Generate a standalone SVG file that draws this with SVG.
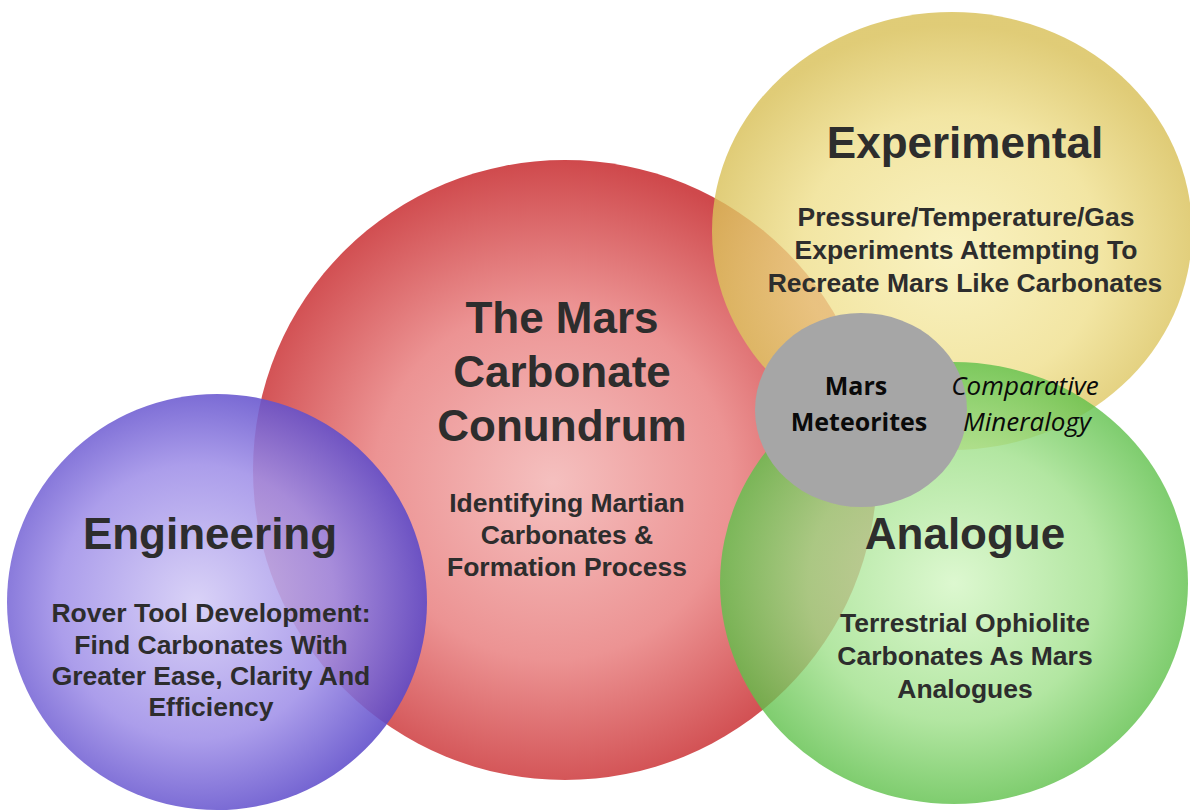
<svg xmlns="http://www.w3.org/2000/svg" width="1190" height="812" viewBox="0 0 1190 812">
  <style>
    .title { font-family: "Liberation Sans", Arial, sans-serif; font-weight: bold; font-size: 44px; fill: #2d2d2d; text-anchor: middle; }
    .sub { font-family: "Liberation Sans", Arial, sans-serif; font-weight: bold; font-size: 26.5px; fill: #2d2d2d; text-anchor: middle; }
    .core { font-family: "Open Sans", "Noto Sans", sans-serif; font-weight: bold; font-size: 25px; fill: #0a0a0a; text-anchor: middle; }
    .core-i { font-family: "Open Sans", "Noto Sans", sans-serif; font-style: italic; font-size: 26px; fill: #0a0a0a; text-anchor: middle; }
  </style>
  <defs>
    <radialGradient id="gRed" cx="0.48" cy="0.52" r="0.52">
      <stop offset="0" stop-color="#f5c0bf"/>
      <stop offset="0.55" stop-color="#ec9393"/>
      <stop offset="1" stop-color="#cf494c"/>
    </radialGradient>
    <radialGradient id="gPurple" cx="0.45" cy="0.5" r="0.55">
      <stop offset="0" stop-color="#d4ccf6"/>
      <stop offset="0.6" stop-color="#a090e8"/>
      <stop offset="1" stop-color="#5a48c8"/>
    </radialGradient>
    <radialGradient id="gYellow" cx="0.5" cy="0.55" r="0.52">
      <stop offset="0" stop-color="#f8efb2"/>
      <stop offset="0.6" stop-color="#efdf8c"/>
      <stop offset="1" stop-color="#d8bf55"/>
    </radialGradient>
    <radialGradient id="gGreen" cx="0.5" cy="0.5" r="0.52">
      <stop offset="0" stop-color="#d4f6c4"/>
      <stop offset="0.6" stop-color="#9fe08a"/>
      <stop offset="1" stop-color="#58bd44"/>
    </radialGradient>
  </defs>

  <rect width="1190" height="812" fill="#ffffff"/>

  <!-- central topic -->
  <g id="node-mars-carbonate-conundrum">
    <ellipse cx="565" cy="470" rx="312" ry="310" fill="url(#gRed)"/>
    <text class="title" x="562" y="333">The Mars</text>
    <text class="title" x="562" y="387">Carbonate</text>
    <text class="title" x="562" y="441">Conundrum</text>
    <text class="sub" x="567" y="512">Identifying Martian</text>
    <text class="sub" x="567" y="544">Carbonates &amp;</text>
    <text class="sub" x="567" y="576">Formation Process</text>
  </g>

  <!-- engineering -->
  <g id="node-engineering">
    <ellipse cx="217" cy="602" rx="210" ry="208" fill="url(#gPurple)" opacity="0.88"/>
    <text class="title" x="210" y="549">Engineering</text>
    <text class="sub" x="211" y="622">Rover Tool Development:</text>
    <text class="sub" x="211" y="654">Find Carbonates With</text>
    <text class="sub" x="211" y="685">Greater Ease, Clarity And</text>
    <text class="sub" x="211" y="716">Efficiency</text>
  </g>

  <!-- experimental -->
  <g id="node-experimental">
    <ellipse cx="952" cy="231" rx="240" ry="219" fill="url(#gYellow)" opacity="0.8"/>
    <text class="title" x="965" y="158">Experimental</text>
    <text class="sub" x="966" y="226">Pressure/Temperature/Gas</text>
    <text class="sub" x="966" y="259">Experiments Attempting To</text>
    <text class="sub" x="965" y="292">Recreate Mars Like Carbonates</text>
  </g>

  <!-- analogue -->
  <g id="node-analogue">
    <ellipse cx="954" cy="583" rx="234" ry="221" fill="url(#gGreen)" opacity="0.8"/>
    <text class="title" x="965" y="549">Analogue</text>
    <text class="sub" x="965" y="632">Terrestrial Ophiolite</text>
    <text class="sub" x="965" y="665">Carbonates As Mars</text>
    <text class="sub" x="965" y="698">Analogues</text>
  </g>

  <!-- shared core -->
  <g id="node-mars-meteorites">
    <ellipse cx="861" cy="410" rx="106" ry="97" fill="#a6a6a6"/>
    <text class="core" x="856" y="395">Mars</text>
    <text class="core" x="859" y="431">Meteorites</text>
  </g>

  <g id="label-comparative-mineralogy">
    <text class="core-i" x="1025" y="395">Comparative</text>
    <text class="core-i" x="1027" y="431">Mineralogy</text>
  </g>
</svg>
